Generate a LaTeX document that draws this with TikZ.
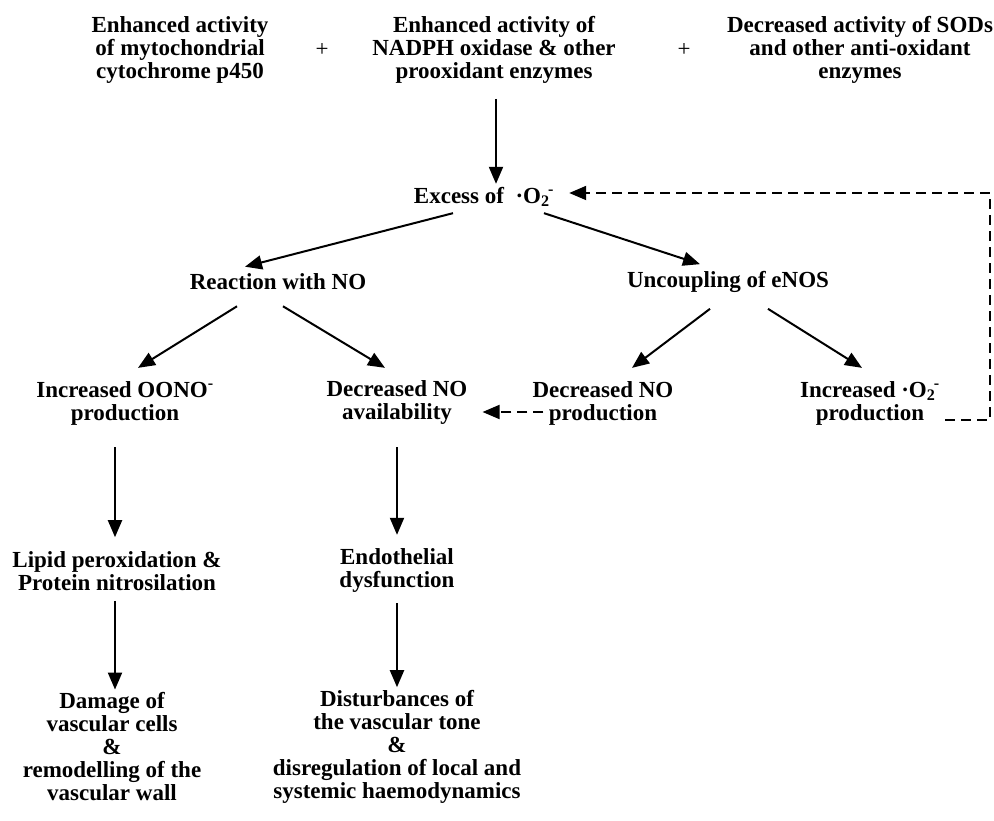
\documentclass[tikz,border=0pt]{standalone}
\usepackage{fontspec}
\setmainfont{Liberation Serif}
\usetikzlibrary{arrows.meta}

\begin{document}
\begin{tikzpicture}[x=1pt,y=-1pt,
		txt/.style={align=center,inner sep=3pt,font=\bfseries\fontsize{23}{23}\selectfont},
		arr/.style={line width=2pt,-{Triangle[length=17pt,width=14pt]}},
		darr/.style={arr,dash pattern=on 10pt off 6pt}]
			\useasboundingbox (0,0) rectangle (994,821);

			\node[txt] (enz1) at (180,50) {Enhanced activity\\of mytochondrial\\cytochrome p450};
			\node[txt,font=\mdseries\fontsize{23}{23}\selectfont] (plus1) at (322,50) {+};
			\node[txt] (enz2) at (494,50) {Enhanced activity of\\NADPH oxidase \& other\\prooxidant enzymes};
			\node[txt,font=\mdseries\fontsize{23}{23}\selectfont] (plus2) at (684,50) {+};
			\node[txt] (enz3) at (860,50) {Decreased activity of SODs\\and other anti-oxidant\\enzymes};

			\node[txt] (exc) at (484,197) {Excess of \ ·O\textsubscript{2}\kern-1.5pt\textsuperscript{-}};
			\node[txt] (rno) at (278,282) {Reaction with NO};
			\node[txt] (unc) at (728,282) {Uncoupling of eNOS};

			\node[txt] (oono) at (125,403) {Increased OONO\textsuperscript{-}\\production};
			\node[txt] (dnoa) at (397,403) {Decreased NO\\availability};
			\node[txt] (dnop) at (603,403) {Decreased NO\\production};
			\node[txt] (isup) at (870,403) {Increased ·O\textsubscript{2}\kern-1.5pt\textsuperscript{-}\\production};

			\node[txt] (lipid) at (117,571) {Lipid peroxidation \&\\Protein nitrosilation};
			\node[txt] (endo) at (397,571) {Endothelial\\dysfunction};

			\node[txt] (damage) at (112,747) {Damage of\\vascular cells\\\&\\remodelling of the\\vascular wall};
			\node[txt] (dist) at (397,747) {Disturbances of\\the vascular tone\\\&\\disregulation of local and\\systemic haemodynamics};

			\coordinate (fb) at (990,193);

			\draw[arr] ([xshift=2pt,yshift=-12pt]enz2.south) -- ([xshift=12pt]exc.north);
			\draw[arr] ([xshift=-31pt,yshift=-3pt]exc.south) -- ([xshift=-33pt,yshift=4pt]rno.north);
			\draw[arr] ([xshift=60pt,yshift=-3pt]exc.south) -- ([xshift=-28pt,yshift=4pt]unc.north);

			\draw[arr] ([xshift=-41pt,yshift=-13pt]rno.south) -- ([xshift=13pt,yshift=10pt]oono.north);
			\draw[arr] ([xshift=5pt,yshift=-13pt]rno.south) -- ([xshift=-12pt,yshift=10pt]dnoa.north);
			\draw[arr] ([xshift=-18pt,yshift=-13pt]unc.south) -- ([xshift=29pt,yshift=10pt]dnop.north);
			\draw[arr] ([xshift=40pt,yshift=-13pt]unc.south) -- ([xshift=-8pt,yshift=10pt]isup.north);

			\draw[arr] ([xshift=-10pt,yshift=-19pt]oono.south) -- ([xshift=-2pt,yshift=11pt]lipid.north);
			\draw[arr] ([yshift=-19pt]dnoa.south) -- ([yshift=11pt]endo.north);
			\draw[arr] ([xshift=-2pt,yshift=-7pt]lipid.south) -- ([xshift=3pt]damage.north);
			\draw[arr] ([yshift=-7pt]endo.south) -- (dist.north);

			\draw[darr] ([xshift=14pt,yshift=-9pt]dnop.west) -- ([xshift=12pt,yshift=-9pt]dnoa.east);
			\draw[darr] ([xshift=2pt,yshift=-17pt]isup.east) -| (fb) -- ([xshift=12pt,yshift=4pt]exc.east);
		\end{tikzpicture}
\end{document}
